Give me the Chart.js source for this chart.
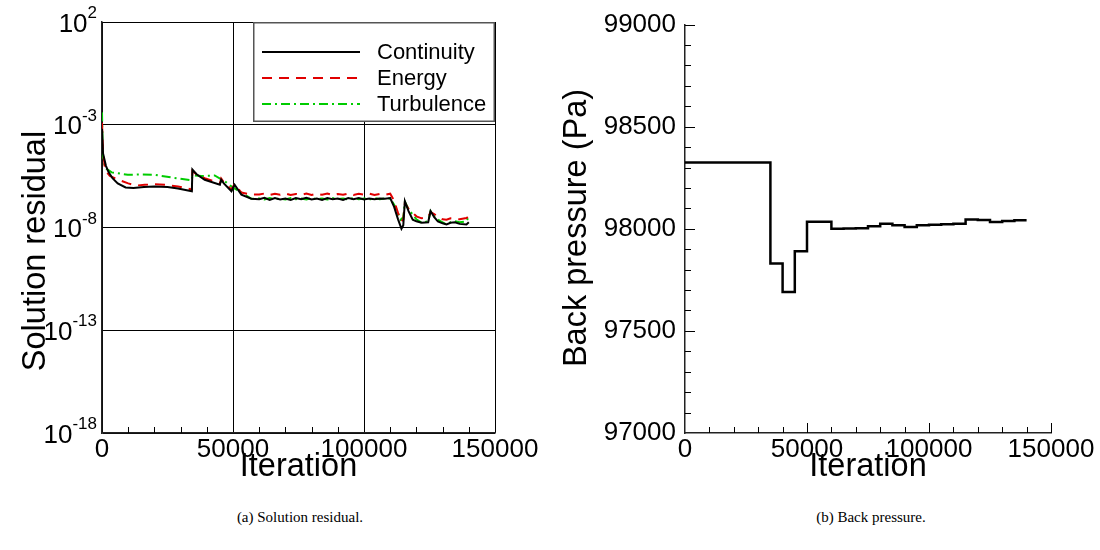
<!DOCTYPE html>
<html>
<head>
<meta charset="utf-8">
<script src="https://cdn.jsdelivr.net/npm/chart.js@4.4.1/dist/chart.umd.min.js"></script>
<style>
  body { margin: 0; background: #fff; }
  #wrap { position: relative; width: 1100px; height: 550px; }
  canvas { position: absolute; top: 0; }
  #residualChart { left: 0; }
  #pressureChart { left: 550px; }
  .caption { position: absolute; top: 509px; width: 300px; text-align: center; line-height: 18px;
             font: 15px 'Liberation Serif', 'Times New Roman', serif; color: #000; }
</style>
</head>
<body>
<div id="wrap">
  <canvas id="residualChart" width="550" height="490"></canvas>
  <canvas id="pressureChart" width="550" height="490"></canvas>
  <div class="caption" style="left:150px">(a) Solution residual.</div>
  <div class="caption" style="left:721px">(b) Back pressure.</div>
</div>
<script>
// ---- data ----
const iterationTicks = [0, 50000, 100000, 150000];
const iterationMinorTicks = [10000, 20000, 30000, 40000, 60000, 70000, 80000, 90000, 110000, 120000, 130000, 140000];

const residualTicks = [1e-18, 1e-13, 1e-8, 1e-3, 1e2];
const residualTickExponents = ['-18', '-13', '-8', '-3', '2'];

const continuityIter = [0, 400, 1500, 2500, 4000, 6000, 9000, 12000, 16000, 20000, 25000, 29000, 34300, 34500, 36000, 39200, 45000, 45500, 46500, 49400, 50600, 53200, 57000,
    60000, 62000, 64000, 66000, 68000, 70000, 72000, 74000, 76000, 78000, 80000, 82000, 84000, 86000, 88000, 90000, 92000, 94000, 96000, 98000, 100000, 102000, 104000, 106000, 108000, 110000,
    111500, 113000, 114300, 115000, 115600, 117000, 118600, 120000, 122000, 124500, 125400, 126800, 128200, 130000, 131500, 133000, 134700, 136500, 139100, 140000];
const continuityRes = [6.3e-4, 4.0e-5, 1.0e-5, 5.0e-6, 2.5e-6, 1.4e-6, 8.9e-7, 8.3e-7, 9.3e-7, 1.0e-6, 9.3e-7, 7.9e-7, 5.8e-7, 6.6e-6, 4.0e-6, 2.1e-6, 1.2e-6, 2.1e-6, 1.4e-6, 5.8e-7, 1.2e-6, 4.0e-7, 2.5e-7,
    2.4e-7, 2.8e-7, 2.2e-7, 2.7e-7, 2.3e-7, 2.6e-7, 2.2e-7, 2.7e-7, 2.4e-7, 2.8e-7, 2.3e-7, 2.6e-7, 2.2e-7, 2.7e-7, 2.4e-7, 2.6e-7, 2.2e-7, 2.7e-7, 2.4e-7, 2.7e-7, 2.3e-7, 2.6e-7, 2.4e-7, 2.6e-7, 2.5e-7, 2.7e-7,
    1.0e-7, 2.5e-8, 8.7e-9, 1.3e-8, 1.9e-7, 6.3e-8, 2.4e-8, 2.0e-8, 1.7e-8, 1.8e-8, 6.3e-8, 3.2e-8, 2.0e-8, 1.6e-8, 1.4e-8, 1.7e-8, 1.8e-8, 1.5e-8, 1.4e-8, 1.8e-8];

const energyIter = [0, 400, 1200, 3000, 6800, 10000, 13000, 16300, 20000, 24000, 29000, 34300, 34500, 36000, 39200, 45000, 45500, 46500, 49400, 50600, 53200, 57000,
    60000, 62000, 64000, 66000, 68000, 70000, 72000, 74000, 76000, 78000, 80000, 82000, 84000, 86000, 88000, 90000, 92000, 94000, 96000, 98000, 100000, 102000, 104000, 106000, 108000, 110000,
    111500, 113000, 114300, 115000, 115600, 117000, 118600, 120000, 122000, 124500, 125400, 126800, 128200, 130000, 131500, 133000, 134700, 136500, 139100, 140000];
const energyRes = [1.26e-3, 5.0e-5, 6.3e-6, 3.2e-6, 2.0e-6, 1.4e-6, 1.1e-6, 1.2e-6, 1.26e-6, 1.2e-6, 1.0e-6, 7.1e-7, 5.6e-6, 4.0e-6, 2.5e-6, 1.4e-6, 2.4e-6, 1.6e-6, 7.1e-7, 1.3e-6, 5.0e-7, 4.0e-7,
    4.0e-7, 4.5e-7, 3.8e-7, 4.4e-7, 3.9e-7, 4.5e-7, 3.8e-7, 4.3e-7, 3.9e-7, 4.5e-7, 3.8e-7, 4.4e-7, 3.9e-7, 4.5e-7, 3.8e-7, 4.3e-7, 3.9e-7, 4.5e-7, 3.8e-7, 4.4e-7, 3.9e-7, 4.5e-7, 3.8e-7, 4.3e-7, 3.9e-7, 4.4e-7,
    2.0e-7, 5.0e-8, 2.0e-8, 2.5e-8, 1.6e-7, 7.9e-8, 5.2e-8, 3.5e-8, 2.8e-8, 3.2e-8, 5.6e-8, 4.5e-8, 3.2e-8, 2.5e-8, 2.4e-8, 2.8e-8, 2.6e-8, 2.5e-8, 2.9e-8, 3.5e-8];

const turbulenceIter = [0, 300, 1200, 3700, 9800, 15000, 20000, 26600, 34300, 34500, 38000, 43000, 46800, 50000, 53300, 57000,
    60000, 62000, 64000, 66000, 68000, 70000, 72000, 74000, 76000, 78000, 80000, 82000, 84000, 86000, 88000, 90000, 92000, 94000, 96000, 98000, 100000, 102000, 104000, 106000, 108000, 110000,
    112000, 114000, 115000, 115600, 117000, 118600, 120000, 122000, 124500, 125400, 126800, 128200, 130000, 131500, 133000, 134700, 136500, 139100, 140000];
const turbulenceRes = [4.0e-3, 3.2e-5, 7.9e-6, 4.8e-6, 3.7e-6, 3.8e-6, 3.7e-6, 2.7e-6, 2.0e-6, 3.5e-6, 3.2e-6, 3.4e-6, 1.8e-6, 8.7e-7, 5.0e-7, 2.5e-7,
    2.6e-7, 2.3e-7, 2.7e-7, 2.4e-7, 2.6e-7, 2.3e-7, 2.7e-7, 2.4e-7, 2.6e-7, 2.3e-7, 2.7e-7, 2.4e-7, 2.6e-7, 2.3e-7, 2.7e-7, 2.4e-7, 2.6e-7, 2.3e-7, 2.7e-7, 2.4e-7, 2.6e-7, 2.3e-7, 2.7e-7, 2.4e-7, 2.6e-7, 2.6e-7,
    1.0e-7, 2.4e-8, 3.2e-8, 1.8e-7, 7.9e-8, 4.2e-8, 2.5e-8, 1.7e-8, 2.0e-8, 6.3e-8, 3.5e-8, 2.4e-8, 1.8e-8, 1.4e-8, 1.8e-8, 2.0e-8, 1.8e-8, 2.0e-8, 3.5e-8];

const pressureIter = [0, 35000, 40000, 45000, 50000, 60000, 65000, 70000, 75000, 80000, 85000, 90000, 95000, 100000, 105000, 110000, 115000, 120000, 125000, 130000, 135000, 140000];
const backPressure = [98325, 97830, 97690, 97890, 98035, 98000, 98002, 98003, 98012, 98025, 98017, 98009, 98017, 98020, 98022, 98025, 98046, 98043, 98033, 98038, 98042, 98042];

const pressureTicks = [97000, 97500, 98000, 98500, 99000];
const pressureMinorTicks = [97100, 97200, 97300, 97400, 97600, 97700, 97800, 97900, 98100, 98200, 98300, 98400, 98600, 98700, 98800, 98900];

// ---- helpers ----
const SANS = '"Liberation Sans", Arial, Helvetica, sans-serif';
Chart.defaults.font.family = SANS;
Chart.defaults.color = '#000';

function toPoints(xs, ys) {
    return xs.map((x, i) => ({ x, y: ys[i] }));
}

function fixedSize(size) {
    return (scale) => {
        if (scale.isHorizontal()) scale.height = size;
        else scale.width = size;
    };
}

// inward tick marks
const innerTicks = {
    id: 'innerTicks',
    afterDatasetsDraw(chart, args, opts) {
        const { ctx, chartArea, scales } = chart;
        ctx.save();
        ctx.strokeStyle = '#000';
        ctx.lineWidth = 1;
        ctx.beginPath();
        (opts.x || []).forEach(([values, len]) => values.forEach((v) => {
            const px = Math.round(scales.x.getPixelForValue(v)) + 0.5;
            ctx.moveTo(px, chartArea.bottom);
            ctx.lineTo(px, chartArea.bottom - len);
        }));
        (opts.y || []).forEach(([values, len]) => values.forEach((v) => {
            const py = Math.round(scales.y.getPixelForValue(v)) + 0.5;
            ctx.moveTo(chartArea.left, py);
            ctx.lineTo(chartArea.left + len, py);
        }));
        ctx.stroke();
        ctx.restore();
    },
};

// axis titles at fixed spots
const axisTitles = {
    id: 'axisTitles',
    afterDraw(chart, args, opts) {
        const { ctx, chartArea } = chart;
        ctx.save();
        ctx.fillStyle = '#000';
        ctx.font = '32.5px ' + SANS;
        ctx.textAlign = 'center';
        ctx.textBaseline = 'alphabetic';
        ctx.fillText(opts.x, (chartArea.left + chartArea.right) / 2, opts.xBaseline);
        ctx.translate(opts.yBaseline, opts.yCenter);
        ctx.rotate(-Math.PI / 2);
        ctx.fillText(opts.y, 0, 0);
        ctx.restore();
    },
};

// 10^n labels on the log axis
const powerLabels = {
    id: 'powerLabels',
    afterDraw(chart) {
        const { ctx } = chart;
        const scale = chart.scales.y;
        ctx.save();
        ctx.fillStyle = '#000';
        ctx.textAlign = 'right';
        ctx.textBaseline = 'alphabetic';
        residualTicks.forEach((v, i) => {
            const y = scale.getPixelForValue(v);
            const xr = scale.right - 5;
            ctx.font = '17px ' + SANS;
            const ew = ctx.measureText(residualTickExponents[i]).width;
            ctx.fillText(residualTickExponents[i], xr, y - 4);
            ctx.font = '26px ' + SANS;
            ctx.fillText('10', xr - ew, y + 9.5);
        });
        ctx.restore();
    },
};

// boxed legend inside top right of the plot
const boxLegend = {
    id: 'boxLegend',
    afterDraw(chart) {
        const { ctx, chartArea } = chart;
        const w = 242, h = 100;
        const x0 = chartArea.right - w, y0 = chartArea.top;
        ctx.save();
        ctx.fillStyle = '#fff';
        ctx.fillRect(x0, y0, w, h);
        ctx.strokeStyle = '#555';
        ctx.lineWidth = 1.5;
        ctx.strokeRect(x0 + 0.75, y0 + 0.75, w - 1.5, h - 1.5);
        ctx.font = '22px ' + SANS;
        ctx.textAlign = 'left';
        ctx.textBaseline = 'middle';
        chart.data.datasets.forEach((ds, i) => {
            const y = y0 + 30 + i * 26;
            ctx.strokeStyle = ds.borderColor;
            ctx.lineWidth = ds.borderWidth;
            ctx.setLineDash(ds.borderDash || []);
            ctx.beginPath();
            ctx.moveTo(x0 + 9, y);
            ctx.lineTo(x0 + 107, y);
            ctx.stroke();
            ctx.setLineDash([]);
            ctx.fillStyle = '#000';
            ctx.fillText(ds.label, x0 + 124, y + 1);
        });
        ctx.restore();
    },
};

const linearX = {
    type: 'linear',
    min: 0,
    max: 150000,
    afterBuildTicks: (scale) => { scale.ticks = iterationTicks.map((v) => ({ value: v })); },
    afterFit: fixedSize(57),
    border: { color: '#222', width: 1.5 },
    ticks: {
        font: { size: 26 },
        padding: 1,
        autoSkip: false,
        maxRotation: 0,
        callback: (v) => String(v),
    },
};

// ---- residual chart ----
new Chart(document.getElementById('residualChart'), {
    type: 'line',
    data: {
        datasets: [
            { label: 'Continuity', data: toPoints(continuityIter, continuityRes), borderColor: '#000000', borderWidth: 2 },
            { label: 'Energy', data: toPoints(energyIter, energyRes), borderColor: '#e00000', borderWidth: 2, borderDash: [10, 7] },
            { label: 'Turbulence', data: toPoints(turbulenceIter, turbulenceRes), borderColor: '#00cc00', borderWidth: 2, borderDash: [9, 4, 2, 4] },
        ],
    },
    options: {
        responsive: false,
        animation: false,
        devicePixelRatio: 1,
        layout: { padding: { top: 22, right: 55, bottom: 0, left: 0 } },
        elements: { point: { radius: 0 }, line: { tension: 0, fill: false } },
        scales: {
            x: {
                ...linearX,
                grid: { color: '#000', lineWidth: 1, drawTicks: false },
            },
            y: {
                type: 'logarithmic',
                min: 1e-18,
                max: 1e2,
                afterBuildTicks: (scale) => { scale.ticks = residualTicks.map((v) => ({ value: v })); },
                afterFit: fixedSize(102),
                border: { color: '#222', width: 1.5 },
                grid: { color: '#000', lineWidth: 1, drawTicks: false },
                ticks: { display: false },
            },
        },
        plugins: {
            legend: { display: false },
            tooltip: { enabled: false },
            innerTicks: { x: [[iterationMinorTicks, 6]] },
            axisTitles: { x: 'Iteration', xBaseline: 476, y: 'Solution residual', yBaseline: 45, yCenter: 251 },
        },
    },
    plugins: [innerTicks, powerLabels, boxLegend, axisTitles],
});

// ---- back pressure chart ----
new Chart(document.getElementById('pressureChart'), {
    type: 'line',
    data: {
        datasets: [{
            label: 'Back pressure',
            data: toPoints(pressureIter, backPressure),
            borderColor: '#000',
            borderWidth: 2.5,
            stepped: 'before',
        }],
    },
    options: {
        responsive: false,
        animation: false,
        devicePixelRatio: 1,
        layout: { padding: { top: 24, right: 49, bottom: 0, left: 0 } },
        elements: { point: { radius: 0 }, line: { tension: 0, fill: false } },
        scales: {
            x: {
                ...linearX,
                grid: { display: false, drawTicks: false },
            },
            y: {
                type: 'linear',
                min: 97000,
                max: 99000,
                afterBuildTicks: (scale) => { scale.ticks = pressureTicks.map((v) => ({ value: v })); },
                afterFit: fixedSize(135),
                border: { color: '#222', width: 1.5 },
                grid: { display: false, drawTicks: false },
                ticks: { font: { size: 26 }, padding: 9, callback: (v) => String(v) },
            },
        },
        plugins: {
            legend: { display: false },
            tooltip: { enabled: false },
            innerTicks: {
                x: [[iterationMinorTicks, 6], [[50000, 100000, 150000], 10]],
                y: [[pressureMinorTicks, 6], [[97500, 98000, 98500, 99000], 10]],
            },
            axisTitles: { x: 'Iteration', xBaseline: 476, y: 'Back pressure (Pa)', yBaseline: 36, yCenter: 228 },
        },
    },
    plugins: [innerTicks, axisTitles],
});
</script>
</body>
</html>
